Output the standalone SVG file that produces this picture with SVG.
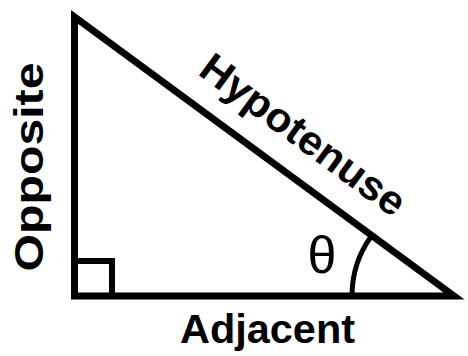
<svg xmlns="http://www.w3.org/2000/svg" width="468" height="356" viewBox="0 0 468 356">
<style>
.ln{fill:none;stroke:#000;stroke-width:7;stroke-linejoin:miter;stroke-miterlimit:10}
.lbl{font-family:"Liberation Sans",Arial,sans-serif;font-weight:700;font-size:41px;fill:#000;text-anchor:middle}
.th{font-family:"Liberation Sans",Arial,sans-serif;font-size:52px;fill:#000;text-anchor:middle}
</style>
<rect width="468" height="356" fill="#fff"/>
<g id="triangle">
<polygon class="ln" points="74.5,17 74.5,296 454,296"/>
<polyline class="ln" points="74.5,261 112,261 112,296" style="stroke-width:6"/>
<path class="ln" d="M352,296 A102,102 0 0 1 371.8,235.6" style="stroke-width:5"/>
</g>
<g id="labels">
<text class="lbl" x="267.5" y="343" textLength="175" lengthAdjust="spacingAndGlyphs">Adjacent</text>
<text class="lbl" transform="translate(43,167) rotate(-90)" textLength="209" lengthAdjust="spacingAndGlyphs">Opposite</text>
<text class="lbl" transform="translate(295,146) rotate(36.3)" textLength="244" lengthAdjust="spacingAndGlyphs">Hypotenuse</text>
<text class="th" x="322" y="273">θ</text>
</g>
</svg>
